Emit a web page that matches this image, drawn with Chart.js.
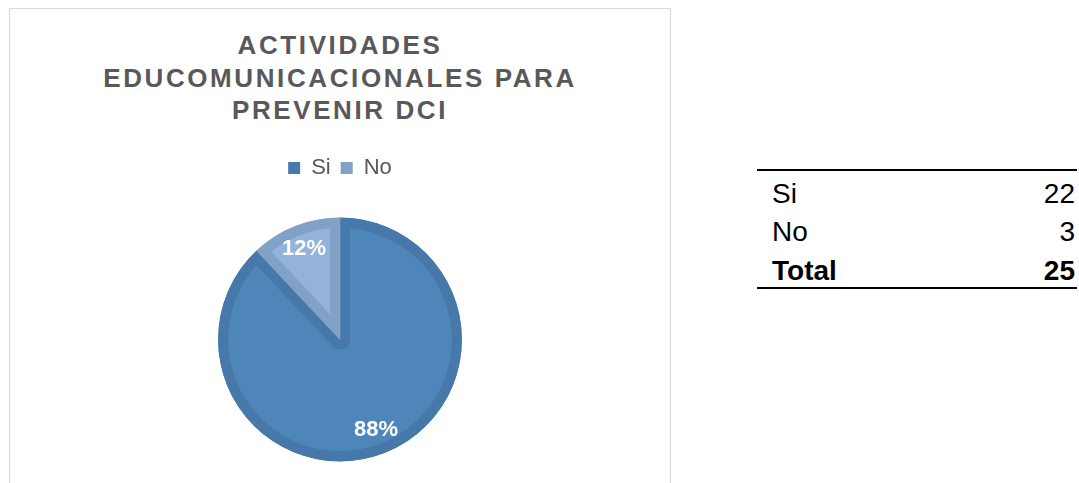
<!DOCTYPE html>
<html>
<head>
<meta charset="utf-8">
<script src="https://cdn.jsdelivr.net/npm/chart.js@4.4.0/dist/chart.umd.min.js"></script>
<style>
  html, body { margin: 0; padding: 0; background: #fff; }
  body { width: 1079px; height: 483px; position: relative; overflow: hidden; font-family: "Liberation Sans", Arial, sans-serif; }
  #box { position: absolute; left: 9px; top: 8px; width: 660px; height: 490px; border: 1px solid #d9d9d9; }
  #title { position: absolute; left: 0; top: 20px; width: 660px; text-align: center; color: #595959;
           font-weight: bold; font-size: 26px; letter-spacing: 2.6px; line-height: 32.5px; }
  #wrap { position: absolute; left: 0; top: 0; width: 660px; height: 475px; }
  #tbl { position: absolute; left: 757px; top: 169px; width: 320px; border-collapse: collapse; font-size: 28px; color: #000; }
  #tbl td { padding: 5.5px 2px 0 15px; line-height: 33px; height: 33px; }
  #tbl td.v { text-align: right; }
  #tbl tr.total td { font-weight: bold; }
</style>
</head>
<body>
<div id="box">
  <div id="title">ACTIVIDADES<br>EDUCOMUNICACIONALES PARA<br>PREVENIR DCI</div>
  <div id="wrap"><canvas id="pie"></canvas></div>
</div>
<table id="tbl">
  <tbody id="tbody"></tbody>
</table>
<script>
// chart data
const categories = ['Si', 'No'];
const counts = [22, 3];
const fillColors = ['#4f86b9', '#93b3da'];
const edgeColors = ['#4679a9', '#82a1c7'];

// table on the right
const total = counts.reduce((a, b) => a + b, 0);
const tbody = document.getElementById('tbody');
const rows = categories.map((c, i) => [c, counts[i], '']).concat([['Total', total, 'total']]);
rows.forEach((r, i) => {
  const tr = document.createElement('tr');
  if (r[2]) tr.className = r[2];
  tr.innerHTML = '<td>' + r[0] + '</td><td class="v">' + r[1] + '</td>';
  tr.style.borderTop = i === 0 ? '2px solid #000' : '';
  if (i === rows.length - 1) tr.style.borderBottom = '2px solid #000';
  tbody.appendChild(tr);
});

// percent labels on the slices
const pctLabels = {
  id: 'pctLabels',
  afterDatasetsDraw(chart) {
    const ctx = chart.ctx;
    const meta = chart.getDatasetMeta(0);
    meta.data.forEach((arc, i) => {
      const mid = (arc.startAngle + arc.endAngle) / 2;
      const r = arc.outerRadius * 0.8;
      const x = arc.x + Math.cos(mid) * r;
      const y = arc.y + Math.sin(mid) * r;
      const pct = Math.round(counts[i] / total * 100) + '%';
      ctx.save();
      ctx.fillStyle = '#fff';
      ctx.font = 'bold 22px "Liberation Sans", Arial, sans-serif';
      ctx.textAlign = 'center';
      ctx.textBaseline = 'middle';
      ctx.fillText(pct, x, y);
      ctx.restore();
    });
  }
};

// extra room under the legend
const legendGap = {
  id: 'legendGap',
  beforeInit(chart) {
    const fit = chart.legend.fit;
    chart.legend.fit = function() {
      fit.bind(chart.legend)();
      this.height += 6;
    };
  }
};

new Chart(document.getElementById('pie'), {
  type: 'pie',
  data: {
    labels: categories,
    datasets: [{
      data: counts,
      backgroundColor: fillColors,
      borderColor: edgeColors,
      borderWidth: 10,
      borderAlign: 'inner',
      radius: 122
    }]
  },
  options: {
    responsive: true,
    maintainAspectRatio: false,
    animation: false,
    layout: { padding: { top: 138, bottom: 0, left: 0, right: 0 } },
    plugins: {
      legend: {
        display: true,
        position: 'top',
        labels: {
          boxWidth: 12,
          boxHeight: 12,
          padding: 10,
          color: '#595959',
          font: { size: 22, family: "'Liberation Sans', Arial, sans-serif" },
          generateLabels(chart) {
            return categories.map((c, i) => ({
              text: c,
              fillStyle: edgeColors[i],
              strokeStyle: edgeColors[i],
              lineWidth: 0,
              fontColor: '#595959',
              index: i
            }));
          }
        }
      },
      tooltip: { enabled: false }
    }
  },
  plugins: [pctLabels, legendGap]
});
</script>
</body>
</html>
